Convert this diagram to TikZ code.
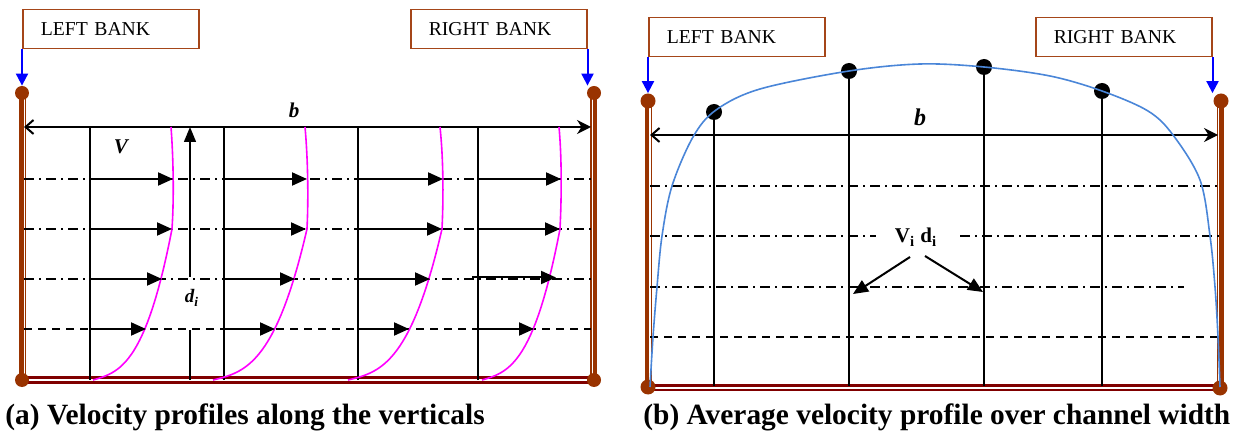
\documentclass[tikz,border=0pt]{standalone}
\usepackage{fontspec}
\setmainfont{Liberation Serif}
\usetikzlibrary{arrows.meta}
\definecolor{wallbrown}{RGB}{153,51,0}
\definecolor{bedred}{RGB}{128,0,0}
\definecolor{boxbrown}{RGB}{165,70,25}
\definecolor{profblue}{RGB}{74,134,216}
\definecolor{profmag}{RGB}{255,0,255}
\tikzset{
  bankbox/.style={draw=boxbrown, line width=0.75pt, anchor=north west, minimum height=19.5pt,
    text width=70pt, inner xsep=9pt, inner ysep=0pt, align=left, font=\fontsize{9.85}{11}\selectfont},
  wallthick/.style={wallbrown, line width=2.2pt},
  wallthin/.style={wallbrown, line width=0.6pt},
  bed/.style={bedred, line width=1.2pt},
  bankdot/.style={circle, fill=wallbrown, inner sep=0pt, minimum size=7pt},
  bluearr/.style={blue, line width=1pt, -{Triangle[length=6pt,width=6pt]}},
  vline/.style={line width=0.7pt},
  dashdot/.style={line width=0.65pt, dash pattern=on 5pt off 2.5pt on 1pt off 2.5pt},
  dashline/.style={line width=0.65pt, dash pattern=on 4pt off 3pt},
  velarr/.style={line width=1pt, -{Triangle[length=7.5pt,width=6.5pt]}},
  widtharr/.style={line width=1pt, {Straight Barb[length=4pt,width=7pt]}-{Stealth[length=7pt,width=7pt]}},
  profile/.style={profmag, line width=0.8pt},
  avgprof/.style={profblue, line width=0.8pt},
  topdot/.style={circle, fill=black, inner sep=0pt, minimum size=8pt},
  caption/.style={anchor=base west, inner sep=0pt, font=\fontsize{14.7}{16}\selectfont\bfseries},
  lbl/.style={anchor=base, inner sep=0pt}
}
\begin{document}
\begin{tikzpicture}[x=0.5pt,y=-0.5pt]
\useasboundingbox (0,0) rectangle (1241,432);

%% ================= panel (a) =================
\node[bankbox] (lbA) at (22,9) {LEFT BANK};
\node[bankbox] (rbA) at (410,9) {RIGHT BANK};

% walls
\draw[wallthick] (21.5,93) -- (21.5,380);
\draw[wallthin] (25.5,93) -- (25.5,380);
\draw[wallthin] (591,93) -- (591,380);
\draw[wallthick] (595,93) -- (595,380);
% bed
\draw[bed] (22,377.7) -- (594,377.7);
\draw[bed] (22,382.3) -- (594,382.3);

\node[bankdot] (dA1) at (22,93) {};
\node[bankdot] (dA2) at (594,93) {};
\node[bankdot] (dA3) at (22,380) {};
\node[bankdot] (dA4) at (594,380) {};

\draw[bluearr] (lbA.south west) -- (lbA.south west |- dA1.north);
\draw[bluearr] (rbA.south east) -- (rbA.south east |- dA2.north);

% horizontal levels
\draw[dashdot] (24,179) -- (593,179);
\draw[dashdot] (24,229) -- (593,229);
\draw[dashdot] (24,279) -- (593,279);
\draw[dashline] (24,329) -- (591,329);

% verticals
\foreach \xx in {90,224,358,478} \draw[vline] (\xx,127) -- (\xx,380);

% width arrow
\coordinate (bAl) at (24,127);
\coordinate (bAr) at (591,127);
\draw[widtharr] (bAl) -- (bAr);
\node[lbl, font=\fontsize{10.5}{12}\selectfont\bfseries\itshape] (bA) at (294,118) {b};
\node[lbl, font=\fontsize{10.5}{12}\selectfont\bfseries\itshape] (VA) at (121,154) {V};

% depth arrow
\node[lbl, font=\fontsize{9.5}{11}\selectfont\bfseries\itshape] (dIA) at (192,303) {d\textsubscript{i}};
\draw[vline] (190,380) -- (190,330);
\draw[vline, -{Triangle[length=7.5pt,width=6pt]}] (190,277) -- (190,127);

% velocity profiles
\draw[profile] plot[domain=0:1, samples=30, variable=\t] ({93+79*\t},{380-151*(0.15*\t+0.85*\t*\t*\t)})
   .. controls (174,200) and (173.5,160) .. (171,127);
\draw[profile] plot[domain=0:1, samples=30, variable=\t] ({213+94*\t},{380-151*(0.15*\t+0.85*\t*\t*\t)})
   .. controls (308.5,200) and (308,160) .. (305,127);
\draw[profile] plot[domain=0:1, samples=30, variable=\t] ({348+94*\t},{380-151*(0.15*\t+0.85*\t*\t*\t)})
   .. controls (443.5,200) and (443.5,160) .. (440,127);
\draw[profile] plot[domain=0:1, samples=30, variable=\t] ({482+78*\t},{380-151*(0.15*\t+0.85*\t*\t*\t)})
   .. controls (561.5,200) and (562,160) .. (559,127);

% velocity arrows
\draw[velarr] (90,179) -- (173,179);
\draw[velarr] (224,179) -- (307,179);
\draw[velarr] (358,179) -- (443,179);
\draw[velarr] (478,179) -- (561,179);
\draw[velarr] (90,229) -- (172,229);
\draw[velarr] (224,229) -- (306,229);
\draw[velarr] (358,229) -- (442,229);
\draw[velarr] (478,229) -- (560,229);
\draw[velarr] (90,279) -- (162,279);
\draw[velarr] (224,279) -- (295,279);
\draw[velarr] (358,279) -- (430,279);
\draw[velarr] (472,277.5) -- (556,277.5);
\draw[velarr] (90,329) -- (146,329);
\draw[velarr] (224,329) -- (275,329);
\draw[velarr] (358,329) -- (409,329);
\draw[velarr] (478,329) -- (534,329);

\node[caption] (capA) at (5,424) {(a) Velocity profiles along the verticals};

%% ================= panel (b) =================
\node[bankbox] (lbB) at (648,17) {LEFT BANK};
\node[bankbox] (rbB) at (1035,17) {RIGHT BANK};

\draw[wallthick] (647,101) -- (647,387);
\draw[wallthin] (651.5,101) -- (651.5,387);
\draw[wallthin] (1217.7,101) -- (1217.7,387);
\draw[wallthick] (1221.5,101) -- (1221.5,387);
\draw[bed] (648,385.3) -- (1220,385.3);
\draw[bed] (648,389.7) -- (1220,389.7);

\node[bankdot, minimum size=7.5pt] (dB1) at (648,101) {};
\node[bankdot, minimum size=7.5pt] (dB2) at (1221,101) {};
\node[bankdot, minimum size=7.5pt] (dB3) at (648,387) {};
\node[bankdot, minimum size=7.5pt] (dB4) at (1220,388) {};

\draw[bluearr] (lbB.south west) -- (lbB.south west |- dB1.north);
\draw[bluearr] (rbB.south east) -- (rbB.south east |- dB2.north);

% horizontal levels
\draw[dashdot] (650,186) -- (1219,186);
\draw[dashdot] (650,236) -- (876,236);
\draw[dashdot] (960,236) -- (1219,236);
\draw[dashdot] (650,287) -- (1184,287);
\draw[dashline] (650,337) -- (1218,337);

% verticals with dots
\node[topdot] (tB1) at (714,112) {};
\node[topdot] (tB2) at (849,71) {};
\node[topdot] (tB3) at (984,67) {};
\node[topdot] (tB4) at (1102,91) {};
\draw[vline] (tB1.center) -- (714,386);
\draw[vline] (tB2.center) -- (849,386);
\draw[vline] (tB3.center) -- (984,386);
\draw[vline] (tB4.center) -- (1102,386);

% width arrow
\coordinate (bBl) at (650,135);
\coordinate (bBr) at (1218,135);
\draw[widtharr] (bBl) -- (bBr);
\node[lbl, font=\fontsize{12}{14}\selectfont\bfseries\itshape] (bB) at (920,126) {b};

% average profile
\draw[avgprof] plot[smooth, tension=0.55] coordinates {(650,387) (653,337) (657,287) (662,236) (672,186) (693,137) (716,110) (760,89) (849,71) (920,64) (984,67) (1050,76) (1102,91) (1148,111) (1173,135) (1200,180) (1210,236) (1215,287) (1218,337) (1220,387)};

% label and pointers
\node[lbl, font=\fontsize{10.5}{12}\selectfont\bfseries] (vd) at (916,243) {V\textsubscript{i} d\textsubscript{i}};
\coordinate (pL) at (853,294);
\coordinate (pR) at (983,292);
\draw[line width=1pt, -{Triangle[length=7.5pt,width=6.5pt]}] (910,257) -- (pL);
\draw[line width=1pt, -{Triangle[length=7.5pt,width=6.5pt]}] (925,256) -- (pR);

\node[caption] (capB) at (643,424) {(b) Average velocity profile over channel width};
\end{tikzpicture}
\end{document}
